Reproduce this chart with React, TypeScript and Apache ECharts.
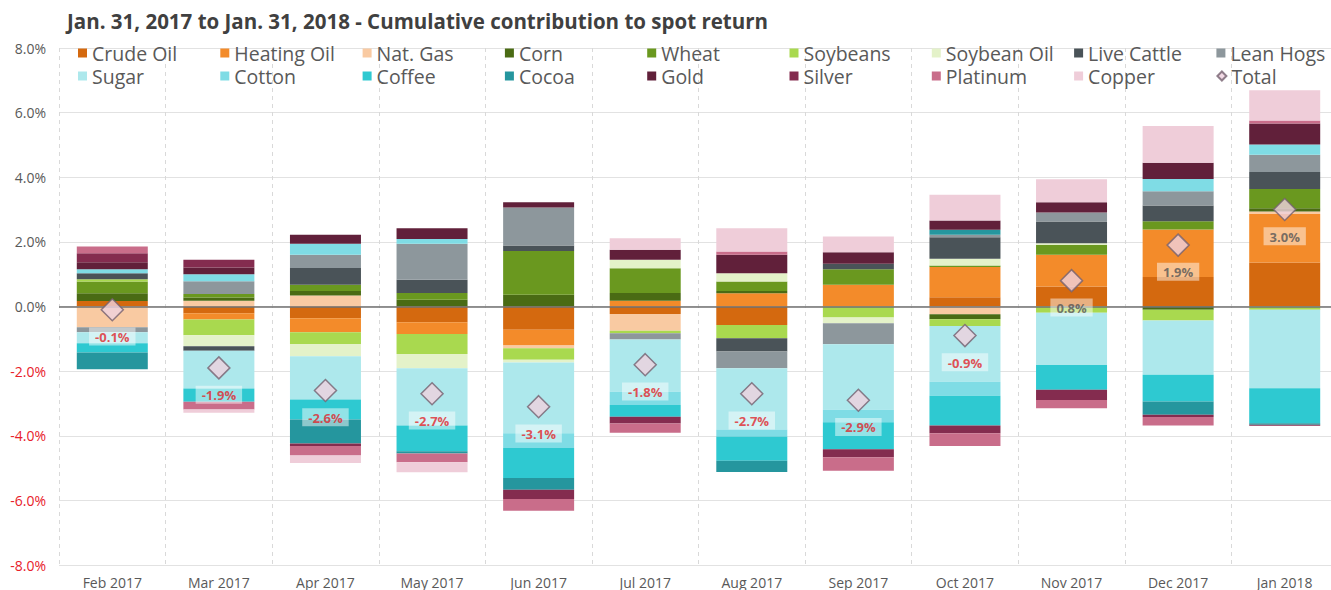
import React, { useEffect, useRef } from "react";
import * as echarts from "echarts";

const months = ["Feb 2017", "Mar 2017", "Apr 2017", "May 2017", "Jun 2017", "Jul 2017", "Aug 2017", "Sep 2017", "Oct 2017", "Nov 2017", "Dec 2017", "Jan 2018"];

const crudeOil = [0.17, -0.21, -0.36, -0.49, -0.72, -0.23, -0.57, 0, 0.29, 0.62, 0.91, 1.36];
const heatingOil = [0, -0.19, -0.44, -0.36, -0.49, 0.175, 0.41, 0.67, 0.93, 0.98, 1.47, 1.5];
const natGas = [-0.64, 0.175, 0.34, 0, -0.08, -0.52, 0, 0, -0.24, 0, 0, 0.08];
const corn = [0.24, 0.1, 0.14, 0.21, 0.36, 0.24, 0.07, 0, -0.155, 0, -0.1, 0.1];
const wheat = [0.36, 0.11, 0.19, 0.21, 1.36, 0.77, 0.29, 0.485, 0.05, 0.31, 0.26, 0.6];
const soybeans = [0.07, -0.49, -0.36, -0.62, -0.36, -0.08, -0.41, -0.34, -0.21, -0.19, -0.33, -0.1];
const soybeanOil = [0, -0.34, -0.38, -0.44, -0.08, 0.26, 0.26, -0.175, 0.21, 0.05, 0, 0];
const liveCattle = [0.19, -0.14, 0.52, 0.41, 0.165, 0, -0.41, 0.165, 0.66, 0.67, 0.485, 0.52];
const leanHogs = [-0.155, 0.4, 0.41, 1.11, 1.18, -0.19, -0.52, -0.65, 0.08, 0.28, 0.44, 0.54];
const sugar = [-0.34, -1.17, -1.34, -1.77, -2.19, -1.62, -1.9, -2.03, -1.72, -1.62, -1.68, -2.43];
const cotton = [0.12, 0.21, 0.34, 0.15, -0.46, -0.41, -0.21, -0.39, -0.44, 0, 0.38, 0.31];
const coffee = [-0.29, -0.41, -0.62, -0.8, -0.93, -0.36, -0.75, -0.83, -0.92, -0.77, -0.83, -1.08];
const cocoa = [-0.52, 0, -0.74, -0.07, -0.36, 0, -0.35, 0, 0.155, 0, -0.41, -0.05];
const gold = [0.22, 0.21, 0.28, 0.33, 0.165, 0.31, 0.57, 0.36, 0.29, 0.32, 0.5, 0.65];
const silver = [0.28, 0.24, -0.08, 0, -0.29, -0.21, 0, -0.25, -0.24, -0.31, -0.07, -0.03];
const platinum = [0.21, -0.24, -0.29, -0.27, -0.36, -0.29, 0.1, -0.42, -0.39, -0.26, -0.26, 0.1];
const copper = [0, -0.1, -0.23, -0.31, 0, 0.36, 0.72, 0.485, 0.79, 0.71, 1.14, 0.93];

const totals = [-0.1, -1.9, -2.6, -2.7, -3.1, -1.8, -2.7, -2.9, -0.9, 0.8, 1.9, 3.0];

const yTicks = [-8, -6, -4, -2, 0, 2, 4, 6, 8];

const commodityNames = ["Crude Oil", "Heating Oil", "Nat. Gas", "Corn", "Wheat", "Soybeans", "Soybean Oil", "Live Cattle", "Lean Hogs", "Sugar", "Cotton", "Coffee", "Cocoa", "Gold", "Silver", "Platinum", "Copper"];
const commodityData = [crudeOil, heatingOil, natGas, corn, wheat, soybeans, soybeanOil, liveCattle, leanHogs, sugar, cotton, coffee, cocoa, gold, silver, platinum, copper];
const commodityColors = ["#d4690f", "#f38b2a", "#f9caa2", "#4a6b14", "#6a981f", "#a9d94f", "#e4f2c9", "#4a5358", "#8d979c", "#ade8ec", "#7fdce5", "#2ec9d1", "#25969e", "#61203a", "#842c4f", "#c96d8a", "#efcdd9"];

const FONT = "'Open Sans', sans-serif";

export default function App() {
  const ref = useRef<HTMLDivElement>(null);

  useEffect(() => {
    if (!ref.current) return;
    const chart = echarts.init(ref.current, undefined, { renderer: "svg" });

    const barSeries = commodityNames.map((name, i) => ({
      name,
      type: "bar",
      stack: "total",
      data: commodityData[i],
      barWidth: 71,
      itemStyle: { color: commodityColors[i] },
      emphasis: { disabled: true },
    }));

    const allNames = [...commodityNames, "Total"];
    const legends = allNames.map((name, idx) => {
      const col = idx % 9;
      const row = Math.floor(idx / 9);
      return {
        data: [name === "Total" ? { name, icon: "diamond" } : { name, icon: "rect" }],
        left: 78 + col * 142.3,
        top: 43 + row * 23,
        padding: 0,
        itemWidth: 9,
        itemHeight: 9,
        selectedMode: false,
        textStyle: { fontFamily: FONT, fontSize: 19.5, color: "#595959", lineHeight: 20 },
      };
    });

    const option = {
      animation: false,
      backgroundColor: "#ffffff",
      title: {
        text: "Jan. 31, 2017 to Jan. 31, 2018 - Cumulative contribution to spot return",
        left: 67,
        top: 10,
        padding: 0,
        textStyle: { fontFamily: FONT, fontSize: 20.5, fontWeight: "bold", color: "#404040" },
      },
      legend: legends,
      grid: { left: 59, right: 2, top: 48, bottom: 25, containLabel: false },
      xAxis: {
        type: "category",
        data: months,
        axisLine: { show: false },
        axisTick: { show: false },
        axisLabel: { fontFamily: FONT, fontSize: 14, color: "#595959", margin: 10 },
        splitLine: { show: true, lineStyle: { type: [4, 4], color: "#d9d9d9", width: 1 } },
      },
      yAxis: {
        type: "value",
        min: yTicks[0],
        max: yTicks[yTicks.length - 1],
        interval: 2,
        axisLine: { show: false },
        axisTick: { show: false },
        axisLabel: {
          fontFamily: FONT,
          fontSize: 14,
          margin: 13,
          formatter: (v: number) => v.toFixed(1) + "%",
          color: (v: any) => (Number(v) < 0 ? "#e8202a" : "#595959"),
        },
        splitLine: { lineStyle: { color: "#e2e2e2", width: 1 } },
      },
      series: [
        ...barSeries,
        {
          name: "Total",
          type: "scatter",
          symbol: "diamond",
          symbolSize: 22,
          z: 5,
          itemStyle: { color: "#efd1de", borderColor: "#74606f", borderWidth: 1.5 },
          emphasis: { disabled: true },
          data: totals.map((v) => ({
            value: v,
            label: { color: v < 0 ? "#e0262b" : "#555555" },
          })),
          label: {
            show: true,
            position: "bottom",
            distance: 6,
            formatter: (p: any) => p.value.toFixed(1) + "%",
            fontFamily: FONT,
            fontSize: 13,
            fontWeight: "bold",
            backgroundColor: "rgba(255,255,255,0.6)",
            padding: [3, 6, 2, 6],
          },
          markLine: {
            silent: true,
            symbol: "none",
            label: { show: false },
            lineStyle: { color: "#707070", width: 1.5, type: "solid" },
            data: [{ yAxis: 0 }],
            z: 4,
          },
        },
      ],
    };

    chart.setOption(option as any);
    return () => chart.dispose();
  }, []);

  return <div ref={ref} style={{ position: "fixed", left: 0, top: 0, width: 1340, height: 590 }} />;
}
